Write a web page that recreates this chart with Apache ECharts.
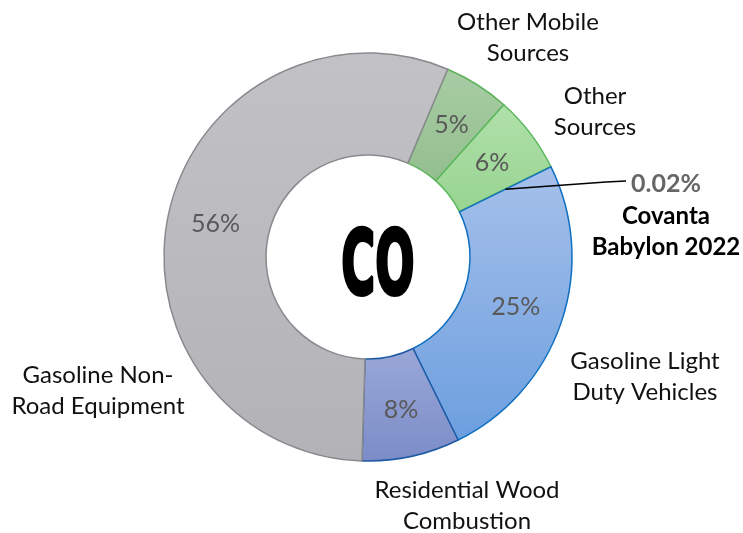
<!DOCTYPE html>
<html>
<head>
<meta charset="utf-8">
<script src="https://cdn.jsdelivr.net/npm/echarts@6/dist/echarts.min.js"></script>
<style>
  html, body { margin: 0; padding: 0; background: #fff; }
  #chart { width: 743px; height: 533px; }
</style>
</head>
<body>
<div id="chart"></div>
<script>
// slices, clockwise from the top
const categories = [
  'Other Mobile\nSources',
  'Other\nSources',
  'Covanta\nBabylon 2022',
  'Gasoline Light\nDuty Vehicles',
  'Residential Wood\nCombustion',
  'Gasoline Non-\nRoad Equipment'
];
// share of CO emissions (%)
const shares = [5.2, 6.1, 0.02, 25.0, 7.75, 55.9];
const pollutant = 'CO';

// looks
const fills = [
  ['#a8cca4', '#93bf8f'],
  ['#b0e0aa', '#98d491'],
  ['#a9dba3', '#a9dba3'],
  ['#a6c0ea', '#6c9fdf'],
  ['#9aa8d8', '#7b8cc7'],
  ['#c2c2c6', '#b3b3b7']
];
const borders = ['#5cb25a', '#5cb85c', '#5cb85c', '#0f6fc0', '#1f5aa5', '#8a8a8e'];
const namePos = [[528, 38], [595, 112], [666, 215], [645, 377], [467, 506], [98, 391]];
const COVANTA = 2;

const FONT = 'Lato';

const chart = echarts.init(document.getElementById('chart'));

function pct(v) {
  return v < 1 ? v.toFixed(2) + '%' : Math.round(v) + '%';
}

const ringData = shares.map((v, i) => ({
  name: categories[i],
  value: v,
  itemStyle: {
    color: new echarts.graphic.LinearGradient(0, 0, 0, 1, [
      { offset: 0, color: fills[i][0] },
      { offset: 1, color: fills[i][1] }
    ]),
    borderColor: borders[i]
  },
  label: { show: i !== COVANTA }
}));

const nameData = shares.map((v, i) => ({
  name: categories[i],
  value: v,
  labelLine: { show: i === COVANTA }
}));

chart.setOption({
  animation: false,
  series: [
    {
      type: 'pie',
      z: 2,
      center: [368, 257],
      radius: [102, 204],
      startAngle: 67,
      clockwise: true,
      avoidLabelOverlap: false,
      silent: true,
      itemStyle: { borderWidth: 1.5 },
      label: {
        position: 'inside',
        formatter: p => pct(p.value),
        fontFamily: FONT,
        fontSize: 25,
        color: '#595959'
      },
      labelLine: { show: false },
      data: ringData
    },
    {
      // transparent copy that only carries the names and the leader line
      type: 'pie',
      z: 5,
      center: [368, 257],
      radius: [102, 153],
      startAngle: 67,
      clockwise: true,
      avoidLabelOverlap: false,
      silent: true,
      itemStyle: { color: 'rgba(0,0,0,0)', borderWidth: 0 },
      label: {
        position: 'outside',
        fontFamily: FONT,
        fontSize: 24,
        lineHeight: 31,
        color: '#111',
        align: 'center',
        formatter: p => {
          if (p.dataIndex !== COVANTA) return p.name;
          const lines = p.name.split('\n').map(s => '{n|' + s + '}');
          return '{p|' + pct(p.value) + '}\n' + lines.join('\n');
        },
        rich: {
          p: { fontFamily: FONT, fontSize: 25, fontWeight: 'bold', color: '#666', lineHeight: 33, align: 'center' },
          n: { fontFamily: FONT, fontSize: 24, fontWeight: 'bold', color: '#000', lineHeight: 31, align: 'center' }
        }
      },
      labelLine: {
        length: 20,
        length2: 20,
        lineStyle: { color: '#000', width: 1.5 }
      },
      labelLayout: p => {
        const pos = namePos[p.dataIndex];
        const out = { x: pos[0], y: pos[1], align: 'center', verticalAlign: 'middle' };
        if (p.dataIndex === COVANTA && p.rect) {
          // outer tip of the thin (mid-ring) sector
          const start = [p.rect.x + p.rect.width, p.rect.y];
          out.labelLinePoints = [start, [606, 182], [626, 181]];
        }
        return out;
      },
      data: nameData
    }
  ],
  graphic: [
    {
      type: 'text',
      x: 378,
      y: 271,
      scaleX: 0.52,
      style: {
        text: pollutant,
        font: 'bold 89px "DejaVu Sans"',
        fill: '#000',
        stroke: '#000',
        lineWidth: 4,
        align: 'center',
        verticalAlign: 'middle',
        textAlign: 'center',
        textVerticalAlign: 'middle'
      }
    }
  ]
});
</script>
</body>
</html>
